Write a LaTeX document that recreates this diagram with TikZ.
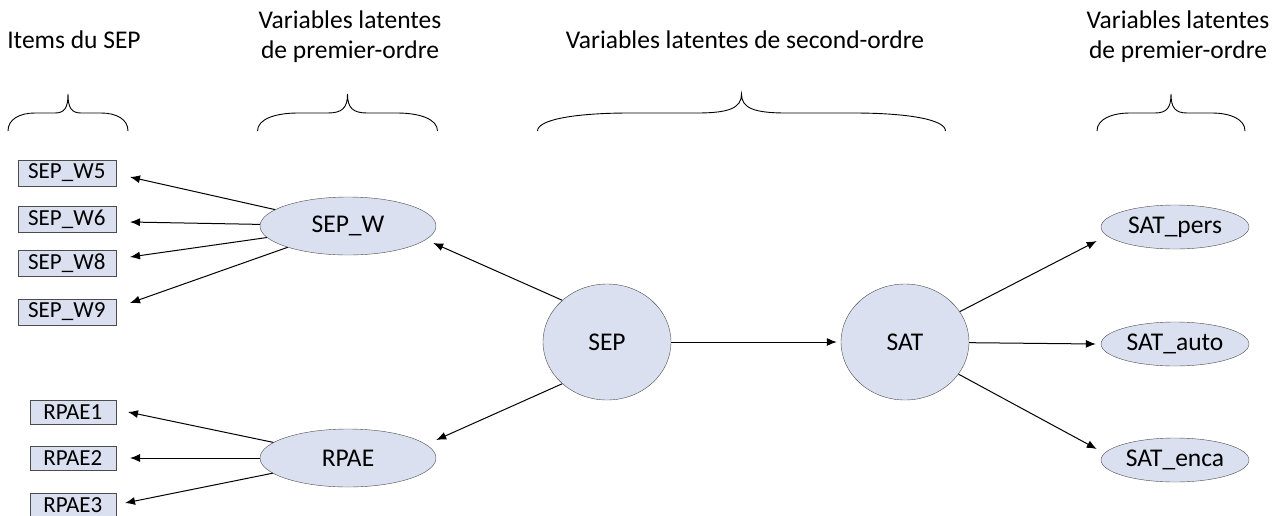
\documentclass[tikz,border=0pt]{standalone}
\usepackage{fontspec}
\setmainfont{Carlito}
\usetikzlibrary{positioning,arrows.meta,shapes.geometric}
\definecolor{latfill}{RGB}{218,224,239}

\begin{document}
\begin{tikzpicture}[x=1pt, y=-1pt, font=\fontsize{25.5}{30}\selectfont, >={Latex[length=10pt,width=8pt]},
  item/.style={draw=black!70, fill=latfill, anchor=east, inner sep=0pt, minimum height=26pt,
    font=\fontsize{23}{27}\selectfont},
  latent/.style={draw=black!70, fill=latfill, ellipse, inner sep=0pt},
  link/.style={->, line width=1pt},
  title/.style={align=center}]
  \useasboundingbox (0,0) rectangle (1274,515);

  % column titles
  \node[title] (titems) at (74,40) {Items du SEP};
  \node[title] (tfirst) at (350,37) {Variables latentes\\de premier-ordre};
  \node[title] (tsecond) at (745,40) {Variables latentes de second-ordre};
  \node[title] (tfirstr) at (1178,37) {Variables latentes\\de premier-ordre};

  % braces
  \foreach \xm/\w in {68/60, 347.5/90, 741.5/204, 1171/74}
    \draw[line width=0.9pt, shift={(\xm,0)}, xscale=\w]
      (-1,131) .. controls (-1,119) and (-0.8,113) .. (-0.55,113) -- (-0.22,113)
      .. controls (-0.06,113) and (0,108) .. (0,94)
      .. controls (0,108) and (0.06,113) .. (0.22,113) -- (0.55,113)
      .. controls (0.8,113) and (1,119) .. (1,131);

  % items
  \node[item, minimum width=98pt] (sepw5) at (116,173) {SEP\_W5};
  \node[item, minimum width=98pt] (sepw6) at (116,219) {SEP\_W6};
  \node[item, minimum width=98pt] (sepw8) at (116,263) {SEP\_W8};
  \node[item, minimum width=98pt] (sepw9) at (116,312) {SEP\_W9};
  \node[item, minimum width=86pt, minimum height=24pt] (rpae1) at (116,412) {RPAE1};
  \node[item, minimum width=86pt, minimum height=24pt] (rpae2) at (116,458) {RPAE2};
  \node[item, minimum width=86pt, minimum height=24pt] (rpae3) at (116,505) {RPAE3};

  % latent variables
  \node[latent, minimum width=176pt, minimum height=58pt] (sepw) at (348,226) {SEP\_W};
  \node[latent, minimum width=176pt, minimum height=58pt] (rpae) at (348,458) {RPAE};
  \node[latent, minimum width=128pt, minimum height=116pt] (sep) at (607,342) {SEP};
  \node[latent, minimum width=128pt, minimum height=116pt] (sat) at (905,342) {SAT};
  \node[latent, minimum width=148pt, minimum height=44pt] (satpers) at (1175,227) {SAT\_pers};
  \node[latent, minimum width=148pt, minimum height=44pt] (satauto) at (1175,344) {SAT\_auto};
  \node[latent, minimum width=148pt, minimum height=44pt] (satenca) at (1175,460) {SAT\_enca};

  % loadings
  \draw[link] (sepw) -- ([xshift=14pt,yshift=-4pt]sepw5.east);
  \draw[link] (sepw) -- ([xshift=14pt,yshift=-3pt]sepw6.east);
  \draw[link] (sepw) -- ([xshift=14pt,yshift=6pt]sepw8.east);
  \draw[link] (sepw) -- ([xshift=14pt,yshift=9pt]sepw9.east);
  \draw[link] (rpae) -- ([xshift=12pt]rpae1.east);
  \draw[link] (rpae) -- ([xshift=14pt]rpae2.east);
  \draw[link] (rpae) -- ([xshift=9pt,yshift=2pt]rpae3.east);

  \draw[link] (sep.137) -- ([xshift=-3pt,yshift=-17pt]sepw.east);
  \draw[link] (sep.-137) -- ([yshift=18pt]rpae.east);
  \draw[link, shorten >=4pt] (sep) -- (sat);
  \draw[link] (sat.29) -- ([xshift=-4pt,yshift=-14pt]satpers.west);
  \draw[link] (sat) -- ([xshift=-5pt]satauto.west);
  \draw[link] (sat.-31) -- ([xshift=-4pt,yshift=11pt]satenca.west);
\end{tikzpicture}
\end{document}
